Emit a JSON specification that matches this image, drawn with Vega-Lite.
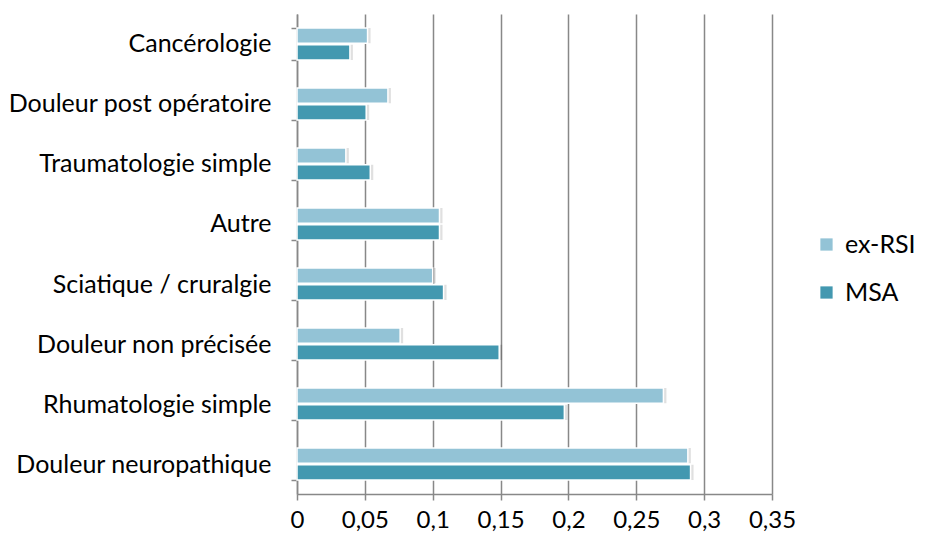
{
  "$schema": "https://vega.github.io/schema/vega-lite/v6.json",
  "width": 475,
  "height": 480,
  "autosize": "none",
  "padding": {"left": 297, "top": 14, "right": 154, "bottom": 45},
  "background": "white",
  "config": {
    "font": "Lato",
    "view": {"stroke": null}
  },
  "data": {
    "values": [
      {"cat": "Cancérologie", "serie": "ex-RSI", "v": 0.052},
      {"cat": "Cancérologie", "serie": "MSA", "v": 0.039},
      {"cat": "Douleur post opératoire", "serie": "ex-RSI", "v": 0.067},
      {"cat": "Douleur post opératoire", "serie": "MSA", "v": 0.051},
      {"cat": "Traumatologie simple", "serie": "ex-RSI", "v": 0.036},
      {"cat": "Traumatologie simple", "serie": "MSA", "v": 0.054},
      {"cat": "Autre", "serie": "ex-RSI", "v": 0.105},
      {"cat": "Autre", "serie": "MSA", "v": 0.105},
      {"cat": "Sciatique / cruralgie", "serie": "ex-RSI", "v": 0.100},
      {"cat": "Sciatique / cruralgie", "serie": "MSA", "v": 0.108},
      {"cat": "Douleur non précisée", "serie": "ex-RSI", "v": 0.076},
      {"cat": "Douleur non précisée", "serie": "MSA", "v": 0.149},
      {"cat": "Rhumatologie simple", "serie": "ex-RSI", "v": 0.270},
      {"cat": "Rhumatologie simple", "serie": "MSA", "v": 0.197},
      {"cat": "Douleur neuropathique", "serie": "ex-RSI", "v": 0.288},
      {"cat": "Douleur neuropathique", "serie": "MSA", "v": 0.290}
    ]
  },
  "encoding": {
    "y": {
      "field": "cat",
      "type": "nominal",
      "sort": null,
      "scale": {"paddingInner": 0.467, "paddingOuter": 0.233},
      "axis": {
        "title": null,
        "tickBand": "extent",
        "domainColor": "#888888",
        "domainWidth": 1.5,
        "tickColor": "#888888",
        "tickWidth": 1.5,
        "tickSize": 6,
        "labelFontSize": 25,
        "labelColor": "#000000",
        "labelPadding": 20,
        "labelLimit": 300
      }
    },
    "yOffset": {
      "field": "serie",
      "type": "nominal",
      "sort": ["ex-RSI", "MSA"],
      "scale": {"paddingInner": 0.08}
    },
    "x": {
      "field": "v",
      "type": "quantitative",
      "scale": {"domain": [0, 0.35], "nice": false},
      "axis": {
        "title": null,
        "values": [0, 0.05, 0.1, 0.15, 0.2, 0.25, 0.3, 0.35],
        "labelExpr": "replace(toString(datum.value), '.', ',')",
        "grid": true,
        "gridColor": "#888888",
        "gridWidth": 1.5,
        "domainColor": "#888888",
        "domainWidth": 1.5,
        "tickColor": "#888888",
        "tickWidth": 1.5,
        "tickSize": 6,
        "labelFontSize": 24,
        "labelColor": "#000000",
        "labelPadding": 8,
        "labelFlush": false
      }
    }
  },
  "layer": [
    {
      "mark": {"type": "bar", "color": "#000000", "opacity": 0.12, "xOffset": 3, "yOffset": 3}
    },
    {
      "mark": {"type": "bar", "stroke": "white", "strokeWidth": 1.5},
      "encoding": {
        "color": {
          "field": "serie",
          "type": "nominal",
          "sort": ["ex-RSI", "MSA"],
          "scale": {"domain": ["ex-RSI", "MSA"], "range": ["#93C3D6", "#4398B0"]},
          "legend": {
            "title": null,
            "orient": "none",
            "legendX": 517,
            "legendY": 218,
            "symbolType": "square",
            "symbolSize": 150,
            "symbolStrokeWidth": 0,
            "labelFontSize": 25,
            "labelColor": "#000000",
            "rowPadding": 22,
            "labelOffset": 6
          }
        }
      }
    }
  ]
}
